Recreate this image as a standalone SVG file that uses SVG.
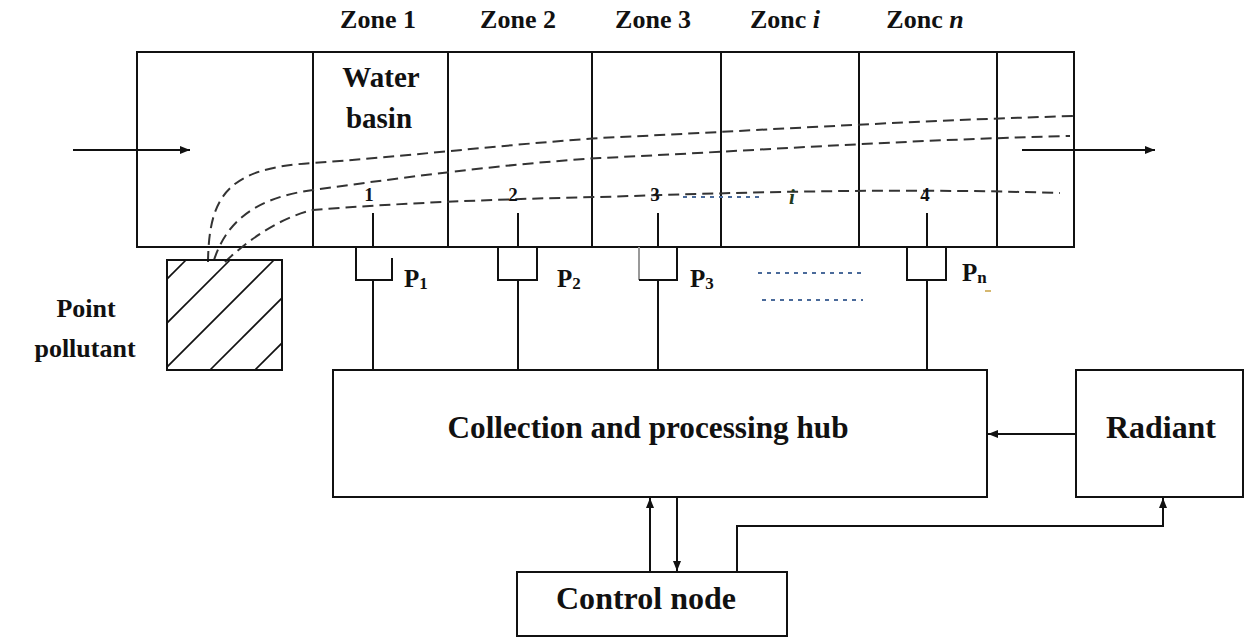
<svg xmlns="http://www.w3.org/2000/svg" width="1248" height="639" viewBox="0 0 1248 639">
  <style>
    .ln { stroke: #111; stroke-width: 2; fill: none; }
    .box { stroke: #111; stroke-width: 2; fill: #fff; }
    .dash { stroke: #333; stroke-width: 2; fill: none; stroke-dasharray: 11 6; }
    .t { font-family: "Liberation Serif", "Times New Roman", serif; font-weight: bold; fill: #111; }
    .zone { font-size: 26px; text-anchor: middle; }
    .num { font-size: 19px; text-anchor: middle; }
    .big { font-size: 31px; text-anchor: middle; }
    .p { font-size: 25px; }
    .sub { font-size: 17px; }
    .dots { stroke: #4a6a9a; stroke-width: 2; stroke-dasharray: 4 5; fill: none; }
  </style>
  <defs>
    <marker id="ah" viewBox="0 0 10 8" refX="10" refY="4" markerWidth="10" markerHeight="8" markerUnits="userSpaceOnUse" orient="auto">
      <path d="M0,0 L10,4 L0,8 Z" fill="#111"/>
    </marker>
    <clipPath id="pclip">
      <rect x="167" y="260" width="115" height="110"/>
    </clipPath>
  </defs>
  <rect width="1248" height="639" fill="#fff"/>

  <!-- zone headings -->
  <g id="zone-labels" class="t zone">
    <text x="378" y="28">Zone 1</text>
    <text x="518" y="28">Zone 2</text>
    <text x="653" y="28">Zone 3</text>
    <text x="785" y="28">Zonc <tspan font-style="italic">i</tspan></text>
    <text x="925" y="28">Zonc <tspan font-style="italic">n</tspan></text>
  </g>

  <!-- water basin split into zones -->
  <g id="basin">
    <rect class="ln" x="137" y="52" width="937" height="195"/>
    <line class="ln" x1="313" y1="52" x2="313" y2="247"/>
    <line class="ln" x1="448" y1="52" x2="448" y2="247"/>
    <line class="ln" x1="592" y1="52" x2="592" y2="247"/>
    <line class="ln" x1="721" y1="52" x2="721" y2="247"/>
    <line class="ln" x1="859" y1="52" x2="859" y2="247"/>
    <line class="ln" x1="997" y1="52" x2="997" y2="247"/>
    <text class="t" font-size="29" text-anchor="middle" x="381" y="87">Water</text>
    <text class="t" font-size="29" text-anchor="middle" x="379" y="128">basin</text>
  </g>

  <!-- pollution plumes -->
  <g id="plumes">
    <path class="dash" d="M208,262 C209,195 228,168 313,163 C400,157 500,145 600,138 C750,131 900,121 1074,116"/>
    <path class="dash" d="M214,260 C226,224 252,198 313,190 C385,180 500,164 600,158 C750,151 900,140 1070,136"/>
    <path class="dash" d="M225,262 C250,238 282,217 313,210 C400,203 500,199 600,197 C750,192 900,188 1060,193"/>
    <line class="dots" x1="683" y1="197" x2="763" y2="197"/>
  </g>

  <!-- sampling points -->
  <g id="points" class="t num">
    <text x="369" y="201">1</text>
    <text x="513" y="201">2</text>
    <text x="655" y="201">3</text>
    <text x="792" y="204" font-style="italic" font-size="21" fill="#203a20">i</text>
    <text x="925" y="201">4</text>
  </g>

  <!-- point pollutant source -->
  <g id="point-pollutant">
    <rect class="ln" x="167" y="260" width="115" height="110"/>
    <g clip-path="url(#pclip)" stroke="#111" stroke-width="1.6">
      <line x1="147" y1="299" x2="207" y2="239"/>
      <line x1="147" y1="343" x2="251" y2="239"/>
      <line x1="147" y1="387" x2="295" y2="239"/>
      <line x1="190" y1="390" x2="302" y2="278"/>
      <line x1="235" y1="390" x2="302" y2="323"/>
    </g>
    <text class="t" font-size="26" text-anchor="middle" x="86" y="317">Point</text>
    <text class="t" font-size="26" text-anchor="middle" x="85" y="357">pollutant</text>
  </g>

  <!-- sensors -->
  <g id="sensor-1">
    <line class="ln" x1="373" y1="213" x2="373" y2="247"/>
    <path class="ln" d="M356,247 V280 H392 V258"/>
    <text class="t p" x="404" y="287">P<tspan class="sub" dy="2">1</tspan></text>
  </g>
  <g id="sensor-2">
    <line class="ln" x1="518" y1="213" x2="518" y2="247"/>
    <path class="ln" d="M498,247 V280 H537 V247"/>
    <text class="t p" x="557" y="287">P<tspan class="sub" dy="2">2</tspan></text>
  </g>
  <g id="sensor-3">
    <line class="ln" x1="658" y1="213" x2="658" y2="247"/>
    <path stroke="#999" stroke-width="2" fill="none" d="M639,247 V280"/>
    <path class="ln" d="M639,280 H677 V247"/>
    <text class="t p" x="690" y="287">P<tspan class="sub" dy="2">3</tspan></text>
  </g>
  <g id="sensor-dots">
    <line class="dots" x1="758" y1="273" x2="863" y2="273"/>
    <line class="dots" x1="762" y1="300" x2="863" y2="300"/>
  </g>
  <g id="sensor-n">
    <line class="ln" x1="927" y1="213" x2="927" y2="247"/>
    <path class="ln" d="M907,247 V280 H946 V247"/>
    <text class="t p" x="962" y="281">P<tspan class="sub" dy="2">n</tspan></text>
    <line x1="985" y1="291" x2="991" y2="291" stroke="#c8a040" stroke-width="1.5"/>
  </g>

  <!-- hub, radiant, control node -->
  <g id="hub">
    <rect class="box" x="333" y="370" width="654" height="127"/>
    <text class="t big" x="648" y="438" textLength="401" lengthAdjust="spacingAndGlyphs">Collection and processing hub</text>
  </g>
  <g id="radiant">
    <rect class="box" x="1076" y="370" width="167" height="127"/>
    <text class="t big" x="1161" y="438" textLength="110" lengthAdjust="spacingAndGlyphs">Radiant</text>
  </g>
  <g id="control-node">
    <rect class="box" x="517" y="572" width="270" height="64"/>
    <text class="t big" x="646" y="609" font-size="33" textLength="180" lengthAdjust="spacingAndGlyphs">Control node</text>
  </g>

  <!-- connectors -->
  <g id="connectors">
    <line class="ln" x1="73" y1="150" x2="190" y2="150" marker-end="url(#ah)"/>
    <line class="ln" x1="1022" y1="150" x2="1155" y2="150" marker-end="url(#ah)"/>
    <line class="ln" x1="373" y1="280" x2="373" y2="370"/>
    <line class="ln" x1="518" y1="280" x2="518" y2="370"/>
    <line class="ln" x1="658" y1="280" x2="658" y2="370"/>
    <line class="ln" x1="927" y1="280" x2="927" y2="370"/>
    <line class="ln" x1="1076" y1="434" x2="988" y2="434" marker-end="url(#ah)"/>
    <line class="ln" x1="650" y1="572" x2="650" y2="498" marker-end="url(#ah)"/>
    <line class="ln" x1="677" y1="497" x2="677" y2="571" marker-end="url(#ah)"/>
    <path class="ln" d="M737,572 V526 H1163 V498" marker-end="url(#ah)"/>
  </g>
</svg>
